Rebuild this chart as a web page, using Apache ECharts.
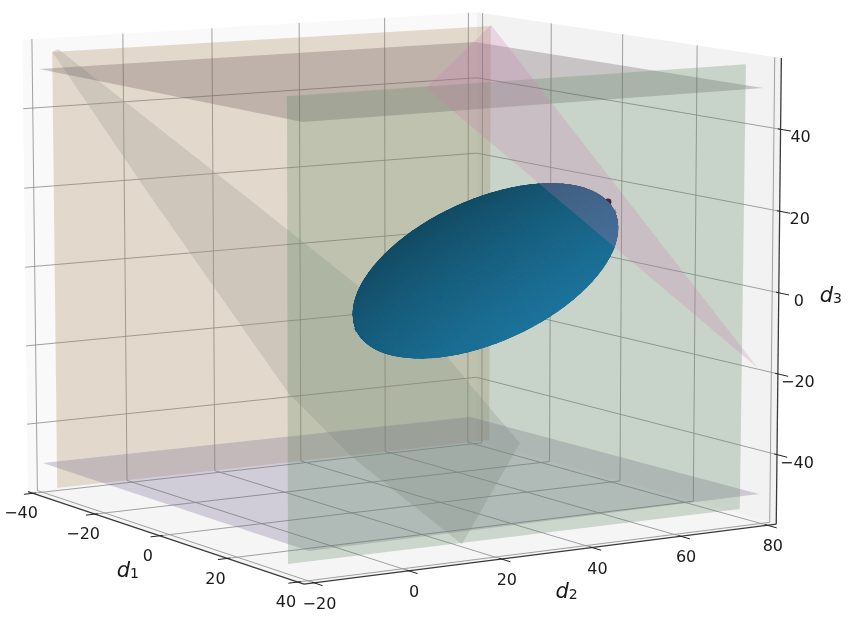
<!DOCTYPE html>
<html><head><meta charset="utf-8"><style>html,body{margin:0;background:#fff}#c{width:850px;height:617px}</style>
<script src="https://cdn.jsdelivr.net/npm/echarts@6/dist/echarts.min.js"></script></head><body><div id="c"></div>
<script>
// ---- axes
var d1Ticks=[-40,-20,0,20,40];
var d2Ticks=[-20,0,20,40,60,80];
var d3Ticks=[-40,-20,0,20,40];
var d1Range=[-41.67,41.67], d2Range=[-22.08,82.08], d3Range=[-57.3,57.3];
// ---- planes, as (d1,d2,d3) corners
var tanPlane=[[-35,-20.1,55],[-35,80,54.7],[-35,79.8,-55],[-35,-20.1,-54.9]];
var greenPlane=[[35,-20.2,54.9],[35,80,55],[35,79.6,-55],[35,-20.4,-54.7]];
var topPlane=[[-60.4,-6,46],[23,-7.9,46],[22.1,95.8,46],[-59.3,95.9,46]];
var bottomPlane=[[-28.7,-27.4,-46],[51.2,-28.2,-46],[50.2,70.2,-46],[-28.2,69.7,-46]];
var grayPlane=[[-89.4,17.9,45.3],[-32,21.4,14.8],[22,24,-13.7],[36.5,20.1,-20.3],[50.5,16.7,-26.8],[85.5,-23.9,-35.6],[60.6,-26.5,-22.1],[41,-24.7,-12.3],[-27,-3.9,18],[-87.6,15.3,45]];
var pinkPlane=[[-80.4,117.1,46.3],[-43.7,71.4,37.8],[57.7,62.8,-12.7]];
var blackPoint=[-2.5,81,14.3];
// ---- ellipsoid
var ellipsoidCenter=[0,50.2,0.2];
var ellipsoidAxisU=[11.88,19.9,15.21];
var ellipsoidAxisV=[5.91,1.96,-15.22];
var ellipsoidAxisW=[18.9,-15.4,5.4];
// ---- camera (3x4 projective matrix of the view)
var camera=[[3.120314,4.732761,-0.05373144,260.4994],[0.533401,-0.2631012,-4.10446,292.2411],[-0.001061147,0.0005419598,-0.0001264166,1]];
function project(d){var w=camera[2][0]*d[0]+camera[2][1]*d[1]+camera[2][2]*d[2]+camera[2][3];
 return [(camera[0][0]*d[0]+camera[0][1]*d[1]+camera[0][2]*d[2]+camera[0][3])/w,(camera[1][0]*d[0]+camera[1][1]*d[1]+camera[1][2]*d[2]+camera[1][3])/w];}
var a0=d1Range[0],a1=d1Range[1],b0=d2Range[0],b1=d2Range[1],z0=d3Range[0],z1=d3Range[1];
function poly(name,pts,fill,z){return {type:'custom',name:name,coordinateSystem:'cartesian2d',silent:true,clip:false,z:z,data:[[0,0]],
 renderItem:function(p,api){return {type:'polygon',shape:{points:pts.map(function(d){return api.coord(project(d))})},style:{fill:fill}}}}}
function lines(name,segs,stroke,width,z){return {type:'custom',name:name,coordinateSystem:'cartesian2d',silent:true,clip:false,z:z,progressive:0,data:segs.map(function(s,i){return [i,0]}),
 renderItem:function(p,api){var s=segs[p.dataIndex],a=api.coord(project(s[0])),b=api.coord(project(s[1]));
  return {type:'line',shape:{x1:a[0],y1:a[1],x2:b[0],y2:b[1]},style:{stroke:stroke,lineWidth:width}}}}}
function labels(name,items,z){return {type:'custom',name:name,coordinateSystem:'cartesian2d',silent:true,clip:false,z:z,data:items.map(function(s,i){return [i,0]}),
 renderItem:function(p,api){var t=items[p.dataIndex],a=api.coord(project(t.at));
  return {type:'text',style:{text:t.text,x:a[0]+t.dx,y:a[1]+t.dy,align:'center',verticalAlign:'middle',fill:'#1a1a1a',font:'16px "DejaVu Sans"',rich:t.rich}}}}}
// grid
var grid=[];
d2Ticks.forEach(function(v){grid.push([[a0,v,z0],[a0,v,z1]]);grid.push([[a0,v,z0],[a1,v,z0]]);});
d1Ticks.forEach(function(v){grid.push([[v,b1,z0],[v,b1,z1]]);grid.push([[v,b0,z0],[v,b1,z0]]);});
d3Ticks.forEach(function(v){grid.push([[a0,b0,v],[a0,b1,v]]);grid.push([[a0,b1,v],[a1,b1,v]]);});
// axes and ticks
var axisLines=[[[a0,b0,z0],[a1,b0,z0]],[[a1,b0,z0],[a1,b1,z0]],[[a1,b1,z0],[a1,b1,z1]]];
var tickLines=[];
d1Ticks.forEach(function(v){tickLines.push([[v,b0-2.0,z0],[v,b0+0.6,z0]]);});
d2Ticks.forEach(function(v){tickLines.push([[a1+2.4,v,z0],[a1-0.6,v,z0]]);});
d3Ticks.forEach(function(v){tickLines.push([[a1+2.6,b1,v],[a1-0.7,b1,v]]);});
function fmt(v){return v<0?'\u2212'+(-v):''+v}
var tickLabels=[];
d1Ticks.forEach(function(v){tickLabels.push({text:fmt(v),at:[v,b0,z0],dx:-12,dy:21});});
d2Ticks.forEach(function(v){tickLabels.push({text:fmt(v),at:[a1,v,z0],dx:5.5,dy:22});});
d3Ticks.forEach(function(v){tickLabels.push({text:fmt(v),at:[a1,b1,v],dx:20,dy:9});});
var nameRich={i:{font:'italic 21px "DejaVu Sans"',fill:'#1a1a1a',verticalAlign:'bottom',lineHeight:26},s:{font:'14px "DejaVu Sans"',fill:'#1a1a1a',verticalAlign:'bottom',lineHeight:20}};
var axisNames=[{text:'{i|d}{s|1}',at:[0,b0,z0],dx:-32,dy:33,rich:nameRich},{text:'{i|d}{s|2}',at:[a1,24,z0],dx:47,dy:33,rich:nameRich},{text:'{i|d}{s|3}',at:[a1,b1,0],dx:52,dy:1,rich:nameRich}];
// ellipsoid mesh
var N=44,M=88,quads=[];
function sph(i,j){var t=Math.PI*i/N,f=2*Math.PI*j/M;return [Math.cos(t),Math.sin(t)*Math.cos(f),Math.sin(t)*Math.sin(f)];}
function surf(s){return [0,1,2].map(function(k){return ellipsoidCenter[k]+s[0]*ellipsoidAxisU[k]+s[1]*ellipsoidAxisV[k]+s[2]*ellipsoidAxisW[k]});}
for(var i=0;i<N;i++)for(var j=0;j<M;j++){var cs=[sph(i,j),sph(i+1,j),sph(i+1,j+1),sph(i,j+1)];
 var m=[0,0,0];cs.forEach(function(s){m[0]+=s[0]/4;m[1]+=s[1]/4;m[2]+=s[2]/4;});
 if(m[2]>-0.12)quads.push({pts:cs.map(surf),a:m[0],b:m[1],c:m[2]});}
quads.sort(function(p,q){return p.c-q.c});
function mix(t){t=Math.max(0,Math.min(1,t));var lo=[18,72,95],hi=[30,122,165];return 'rgb('+[0,1,2].map(function(k){return Math.round(lo[k]+(hi[k]-lo[k])*t)}).join(',')+')';}
var ellipsoid={type:'custom',name:'ellipsoid',coordinateSystem:'cartesian2d',silent:true,clip:false,z:20,progressive:0,data:quads.map(function(q,i){return [i,0]}),
 renderItem:function(p,api){var q=quads[p.dataIndex];var t=0.5+0.42*(0.3*q.a+0.95*q.b)-0.05*(1-Math.max(q.c,0));var col=mix(t);
  return {type:'polygon',shape:{points:q.pts.map(function(d){return api.coord(project(d))})},style:{fill:col,stroke:col,lineWidth:1.2}}}};
var dot={type:'custom',name:'point',coordinateSystem:'cartesian2d',silent:true,clip:false,z:19,data:[blackPoint.slice(0,2)],
 renderItem:function(p,api){var a=api.coord(project(blackPoint));return {type:'circle',shape:{cx:a[0],cy:a[1],r:3.4},style:{fill:'#151515'}}}};
var series=[
 poly('wall d1',[[a0,b0,z0],[a0,b1,z0],[a0,b1,z1],[a0,b0,z1]],'#f9f9f9',1),
 poly('wall d2',[[a0,b1,z0],[a1,b1,z0],[a1,b1,z1],[a0,b1,z1]],'#f2f2f2',1),
 poly('floor',[[a0,b0,z0],[a1,b0,z0],[a1,b1,z0],[a0,b1,z0]],'#f5f5f5',1),
 lines('grid',grid,'rgba(145,145,145,0.85)',1,2),
 poly('tan',tanPlane,'rgba(172,132,88,0.28)',5),
 poly('gray',grayPlane,'rgba(150,150,145,0.28)',6),
 poly('bottom',bottomPlane,'rgba(112,100,140,0.28)',7),
 poly('top',topPlane,'rgba(95,80,85,0.28)',8),
 poly('green',greenPlane,'rgba(92,136,96,0.28)',9),
 dot,ellipsoid,
 poly('pink',pinkPlane,'rgba(205,120,175,0.24)',25),
 lines('axes',axisLines,'#3a3a3a',1.3,30),
 lines('ticks',tickLines,'#222',1,30),
 labels('tick labels',tickLabels,31),
 labels('axis names',axisNames,31)
];
var chart=echarts.init(document.getElementById('c'),null,{renderer:'canvas'});
chart.setOption({animation:false,backgroundColor:'#fff',grid:{left:0,right:0,top:0,bottom:0},
 xAxis:{type:'value',min:0,max:850,show:false},yAxis:{type:'value',min:0,max:617,inverse:true,show:false},series:series});
</script></body></html>
